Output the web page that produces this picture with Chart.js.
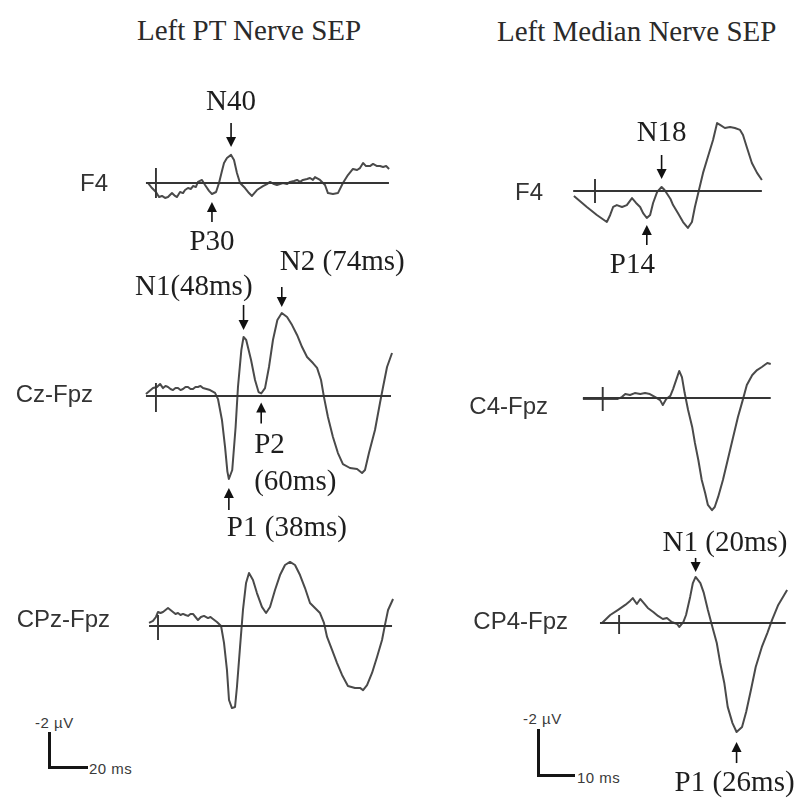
<!DOCTYPE html>
<html>
<head>
<meta charset="utf-8">
<script src="https://cdn.jsdelivr.net/npm/chart.js@4"></script>
<style>
  html, body { margin: 0; padding: 0; background: #fff; }
  #page { position: relative; width: 797px; height: 798px; overflow: hidden; }
  #page canvas { position: absolute; left: 0; top: 0; }
  .title { position: absolute; font-family: "Liberation Serif", "Times New Roman", serif; font-size: 29px; line-height: 29px; color: #2a2a2a; white-space: nowrap; }
  .bar { position: absolute; background: #151515; }
  .bar-text { position: absolute; font-family: "Liberation Sans", Arial, sans-serif; font-size: 15px; line-height: 15px; color: #3a3a3a; white-space: nowrap; letter-spacing: 0.5px; }
</style>
</head>
<body>
<div id="page">
  <div class="title" style="left:137px; top:16px;">Left PT Nerve SEP</div>
  <div class="title" style="left:497px; top:17px;">Left Median Nerve SEP</div>

  <div class="bar-text" style="left:35px; top:715px;">-2 µV</div>
  <div class="bar" style="left:48px; top:732px; width:3px; height:37px;"></div>
  <div class="bar" style="left:48px; top:766px; width:40px; height:3px;"></div>
  <div class="bar-text" style="left:89px; top:761px;">20 ms</div>

  <div class="bar-text" style="left:523px; top:711px;">-2 µV</div>
  <div class="bar" style="left:537px; top:729px; width:3px; height:48px;"></div>
  <div class="bar" style="left:537px; top:774px; width:38px; height:3px;"></div>
  <div class="bar-text" style="left:577px; top:770px;">10 ms</div>
</div>
<script>
// ---- Left PT nerve SEP (time in ms, amplitude in µV, negative plotted up) ----
const ptF4Ms = [-17.0, -14.3, -11.6, -9.5, -7.5, -5.4, -3.4, -1.4, -0.7, 1.4, 2.7, 4.8, 6.8, 8.2, 10.2, 12.2, 13.6, 15.6, 17.0, 19.7,
  21.8, 24.5, 26.5, 29.3, 31.3, 33.3, 34.7, 36.7, 39.5, 41.5, 43.5, 45.6, 49.0, 51.7, 53.7, 57.1, 61.2, 63.9, 66.0, 68.7,
  70.7, 74.8, 77.5, 79.6, 82.3, 84.4, 86.4, 88.4, 91.2, 93.2, 95.2, 96.6, 100.0, 103.4, 105.4, 108.8, 112.2, 115.6, 119.0, 122.4,
  125.2, 127.2, 129.3, 131.3, 134.0, 136.1, 138.8, 140.8, 142.9, 145.0, 147.0];
const ptF4Uv = [0.00, 0.28, 0.50, 0.78, 0.72, 0.83, 0.78, 0.61, 0.56, 0.72, 0.78, 0.50, 0.56, 0.39, 0.28, 0.33, 0.17, 0.22, -0.06, -0.17,
  0.11, 0.44, 0.61, 0.50, 0.00, -0.67, -1.11, -1.39, -1.56, -1.28, -0.56, 0.00, 0.28, 0.56, 0.72, 0.39, 0.17, 0.06, -0.06, 0.06,
  0.11, 0.00, 0.06, -0.06, -0.11, -0.17, -0.06, -0.17, -0.22, -0.28, -0.17, -0.33, -0.17, 0.11, 0.56, 0.61, 0.56, 0.00, -0.44, -0.78,
  -0.72, -0.83, -1.11, -0.94, -0.94, -1.06, -0.94, -0.94, -0.89, -0.94, -0.78];
const ptF4PeakNames = ['N40', 'P30'];
const ptF4PeakMs = [39.5, 26.5];

const ptCzMs = [-18.4, -13.6, -10.9, -8.8, -6.8, -5.1, -3.4, -1.7, 0.0, 1.7, 3.4, 5.1, 6.8, 8.5, 10.2, 11.9, 13.6, 15.3, 17.0, 18.7,
  20.4, 22.8, 25.2, 28.6, 30.6, 33.3, 35.4, 37.0, 38.0, 40.3, 42.6, 44.2, 46.5, 48.0, 49.8, 53.1, 55.8, 58.2, 60.0, 62.6,
  65.3, 68.0, 71.0, 74.0, 77.6, 81.0, 84.4, 87.8, 91.2, 95.2, 98.0, 100.7, 102.7, 105.4, 108.8, 112.2, 115.6, 120.4, 125.2, 128.6,
  130.6, 133.3, 137.4, 140.8, 142.9, 145.6, 149.0];
const ptCzUv = [-0.11, -0.44, -0.50, -0.67, -0.44, -0.56, -0.50, -0.39, -0.33, -0.44, -0.44, -0.33, -0.39, -0.50, -0.50, -0.39, -0.39, -0.50, -0.50, -0.56,
  -0.44, -0.39, -0.33, -0.17, 0.17, 1.33, 2.83, 4.20, 4.61, 4.11, 1.72, -0.50, -2.56, -3.28, -3.11, -2.00, -0.89, -0.22, -0.14, -0.44,
  -1.61, -3.11, -4.22, -4.61, -4.39, -3.94, -3.39, -2.72, -2.17, -1.83, -1.56, -0.89, 0.06, 1.17, 2.28, 3.17, 3.78, 4.00, 4.06, 4.28,
  4.11, 3.17, 1.89, 0.39, -0.50, -1.61, -2.39];
const ptCzPeakNames = ['N1(48ms)', 'N2 (74ms)', 'P2\n(60ms)', 'P1 (38ms)'];
const ptCzPeakMs = [48, 74, 60, 38];

const ptCPzMs = [-16.3, -13.6, -11.6, -10.2, -8.5, -6.8, -5.1, -3.4, -1.7, 0.0, 1.7, 3.4, 5.1, 6.8, 8.5, 10.2, 11.9, 13.6, 15.3, 17.0,
  19.0, 21.1, 23.8, 25.5, 27.2, 29.9, 32.7, 34.7, 36.7, 38.1, 40.1, 42.2, 43.5, 45.6, 47.6, 49.7, 51.7, 54.4, 57.1, 60.5,
  63.3, 66.0, 69.4, 72.8, 76.2, 79.6, 83.0, 86.4, 89.8, 93.2, 96.6, 100.0, 102.7, 104.8, 108.2, 111.6, 115.0, 119.0, 123.8, 127.2,
  129.3, 132.0, 135.4, 138.8, 142.2, 144.2, 146.3, 149.7];
const ptCPzUv = [-0.17, -0.28, -0.50, -0.78, -0.72, -0.78, -0.89, -1.00, -0.89, -0.78, -0.67, -0.72, -0.61, -0.67, -0.61, -0.56, -0.67, -0.67, -0.50, -0.33,
  -0.50, -0.56, -0.44, -0.50, -0.39, -0.22, 0.00, 0.94, 2.44, 4.11, 4.56, 4.50, 3.39, 1.17, -0.89, -2.39, -2.94, -2.56, -1.83, -1.06,
  -0.72, -1.06, -2.00, -2.83, -3.39, -3.56, -3.39, -2.83, -2.11, -1.28, -1.00, -0.72, -0.17, 0.61, 1.33, 2.06, 2.72, 3.33, 3.44, 3.44,
  3.56, 3.28, 2.61, 1.72, 0.78, -0.06, -0.89, -1.50];

// ---- Left median nerve SEP ----
const mnF4Ms = [-5.7, -2.2, 0.5, 3.2, 4.1, 4.9, 5.9, 7.3, 8.6, 10.0, 11.1, 12.2, 13.0, 14.0, 14.9, 15.7, 16.8, 18.0, 18.8, 19.7,
  20.4, 21.1, 22.4, 23.8, 25.1, 26.2, 27.0, 28.1, 29.2, 30.5, 31.9, 33.0, 33.8, 35.1, 36.5, 37.8, 39.2, 40.0, 41.1, 42.4,
  43.8, 45.1];
const mnF4Uv = [0.21, 0.68, 1.02, 1.32, 1.02, 0.68, 0.60, 0.68, 0.60, 0.30, 0.51, 0.68, 0.94, 1.15, 1.02, 0.51, 0.04, -0.17, -0.04, 0.17,
  0.34, 0.60, 0.94, 1.32, 1.57, 1.32, 0.68, -0.04, -0.77, -1.45, -2.17, -2.89, -2.81, -2.68, -2.72, -2.68, -2.60, -2.38, -1.83, -1.19,
  -0.77, -0.47];
const mnF4PeakNames = ['N18', 'P14'];
const mnF4PeakMs = [18, 14];

const mnC4Ms = [3.5, 5.7, 7.5, 8.6, 9.2, 9.7, 10.4, 11.1, 11.9, 12.6, 13.3, 14.1, 14.8, 15.2, 15.7, 16.3, 16.7, 17.3, 17.6, 18.0,
  18.4, 18.9, 19.5, 19.9, 20.4, 20.9, 21.4, 21.8, 22.4, 22.8, 23.3, 24.0, 24.7, 25.5, 26.2, 26.9, 27.5, 28.3, 29.0, 29.7,
  30.5, 31.0];
const mnC4Uv = [0.04, 0.04, 0.04, 0.04, -0.04, -0.17, -0.13, -0.21, -0.17, -0.21, -0.17, -0.04, 0.09, 0.30, 0.04, -0.09, -0.38, -0.89, -1.15, -0.89,
  -0.21, 0.51, 1.23, 1.91, 2.64, 3.49, 4.04, 4.55, 4.77, 4.64, 4.21, 3.49, 2.64, 1.66, 0.81, 0.09, -0.55, -0.98, -1.19, -1.32,
  -1.49, -1.45];

const mnCP4Ms = [6.3, 7.5, 8.6, 9.7, 10.4, 10.8, 11.4, 11.9, 12.3, 13.0, 13.8, 14.5, 15.2, 15.8, 16.5, 17.3, 17.6, 18.2, 18.6, 19.2,
  19.6, 20.0, 20.7, 21.2, 21.8, 22.5, 23.1, 23.6, 24.2, 24.7, 25.4, 26.0, 26.8, 27.4, 28.1, 28.8, 29.7, 30.5, 31.2, 32.1,
  33.4];
const mnCP4Uv = [0.00, -0.34, -0.55, -0.77, -0.94, -1.06, -0.81, -1.02, -0.89, -0.64, -0.47, -0.30, -0.17, -0.21, -0.04, 0.04, 0.17, -0.04, -0.34, -1.11,
  -1.70, -1.96, -1.70, -1.28, -0.55, 0.21, 0.85, 1.70, 2.55, 3.57, 4.26, 4.64, 4.43, 3.79, 2.85, 1.87, 1.02, 0.43, -0.13, -0.77,
  -1.40];
const mnCP4PeakNames = ['N1 (20ms)', 'P1 (26ms)'];
const mnCP4PeakMs = [20, 26];

const W = 797, H = 798;
const SERIF = '"Liberation Serif", "Times New Roman", serif';
const SANS = '"Liberation Sans", Arial, sans-serif';

// panel layout: where t=0 / baseline sit on the page, scale factors, and how each arrow is drawn
const panels = [
  { channel: 'F4', ms: ptF4Ms, uv: ptF4Uv, names: ptF4PeakNames, peaks: ptF4PeakMs,
    sweep: [-18.4, 146.9], stim: -11.6, tick: [-0.83, 0.83],
    zeroPx: 173, pxPerMs: 1.47, basePx: 183, pxPerUv: 18, labelX: 108, labelY: 184,
    marks: [
      { dir: 'down', gap: 8, len: 24, align: 'center', dx: 0, dy: -21 },
      { dir: 'up', gap: 8, len: 20, align: 'center', dx: 0, dy: 20 }
    ] },
  { channel: 'Cz-Fpz', ms: ptCzMs, uv: ptCzUv, names: ptCzPeakNames, peaks: ptCzPeakMs,
    sweep: [-18.4, 148.3], stim: -11.6, tick: [-0.72, 0.89],
    zeroPx: 173, pxPerMs: 1.47, basePx: 396, pxPerUv: 18, labelX: 93, labelY: 395,
    marks: [
      { dir: 'down', gap: 7, len: 25, align: 'right', dx: 9, dy: -18 },
      { dir: 'down', gap: 6, len: 20, align: 'left', dx: -2, dy: -25 },
      { dir: 'up', gap: 9, len: 21, align: 'left', dx: -7, dy: 22, lineGap: 37 },
      { dir: 'up', gap: 9, len: 22, align: 'left', dx: -2, dy: 18 }
    ] },
  { channel: 'CPz-Fpz', ms: ptCPzMs, uv: ptCPzUv, names: [], peaks: [],
    sweep: [-16.3, 149.0], stim: -10.2, tick: [-0.61, 0.78],
    zeroPx: 173, pxPerMs: 1.47, basePx: 626, pxPerUv: 18, labelX: 110, labelY: 620,
    marks: [] },
  { channel: 'F4', ms: mnF4Ms, uv: mnF4Uv, names: mnF4PeakNames, peaks: mnF4PeakMs,
    sweep: [-5.9, 45.1], stim: 0, tick: [-0.51, 0.51],
    zeroPx: 595, pxPerMs: 3.7, basePx: 191, pxPerUv: 23.5, labelX: 543, labelY: 193,
    marks: [
      { dir: 'down', gap: 8, len: 24, align: 'center', dx: 0, dy: -22 },
      { dir: 'up', gap: 7, len: 20, align: 'left', dx: -37, dy: 20 }
    ] },
  { channel: 'C4-Fpz', ms: mnC4Ms, uv: mnC4Uv, names: [], peaks: [],
    sweep: [3.5, 31.0], stim: 6.4, tick: [-0.47, 0.55],
    zeroPx: 559, pxPerMs: 6.83, basePx: 398, pxPerUv: 23.5, labelX: 548, labelY: 407,
    marks: [] },
  { channel: 'CP4-Fpz', ms: mnCP4Ms, uv: mnCP4Uv, names: mnCP4PeakNames, peaks: mnCP4PeakMs,
    sweep: [6.0, 33.2], stim: 8.8, tick: [-0.34, 0.47],
    zeroPx: 559, pxPerMs: 6.83, basePx: 623, pxPerUv: 23.5, labelX: 568, labelY: 622,
    marks: [
      { dir: 'down', gap: 5, len: 14, align: 'left', dx: -33, dy: -15 },
      { dir: 'up', gap: 10, len: 21, align: 'left', dx: -62, dy: 20 }
    ] }
];

// amplitude of a trace at time t (linear between samples)
function valueAt(ms, uv, t) {
  for (let i = 1; i < ms.length; i++) {
    if (t <= ms[i]) {
      const f = (t - ms[i - 1]) / (ms[i] - ms[i - 1]);
      return uv[i - 1] + f * (uv[i] - uv[i - 1]);
    }
  }
  return uv[uv.length - 1];
}

const peakMarks = {
  id: 'peakMarks',
  afterDatasetsDraw(chart, args, opts) {
    const p = opts.panel;
    const ctx = chart.ctx;
    const xs = chart.scales.x, ys = chart.scales.y;
    ctx.save();

    // channel name
    ctx.fillStyle = '#333';
    ctx.font = '24px ' + SANS;
    ctx.textAlign = 'right';
    ctx.textBaseline = 'middle';
    ctx.fillText(p.channel, p.labelX, p.labelY);

    // arrows and component labels
    ctx.font = '29px ' + SERIF;
    ctx.textBaseline = 'middle';
    p.peaks.forEach((t, i) => {
      const m = p.marks[i];
      const x = xs.getPixelForValue(t);
      const yPeak = ys.getPixelForValue(valueAt(p.ms, p.uv, t));
      const s = m.dir === 'down' ? -1 : 1;
      const tip = yPeak + s * m.gap;
      const tail = tip + s * m.len;
      const head = 10;
      ctx.strokeStyle = '#111';
      ctx.fillStyle = '#111';
      ctx.lineWidth = 1.6;
      ctx.beginPath();
      ctx.moveTo(x, tail);
      ctx.lineTo(x, tip + s * head * 0.8);
      ctx.stroke();
      ctx.beginPath();
      ctx.moveTo(x, tip);
      ctx.lineTo(x - 5, tip + s * head);
      ctx.lineTo(x + 5, tip + s * head);
      ctx.closePath();
      ctx.fill();

      ctx.fillStyle = '#1e1e1e';
      ctx.textAlign = m.align;
      p.names[i].split('\n').forEach((line, k) => {
        ctx.fillText(line, x + m.dx, tail + m.dy + k * (m.lineGap || 0));
      });
    });
    ctx.restore();
  }
};

const page = document.getElementById('page');

panels.forEach(p => {
  const canvas = document.createElement('canvas');
  canvas.width = W;
  canvas.height = H;
  page.appendChild(canvas);

  const trace = p.ms.map((t, i) => ({ x: t, y: p.uv[i] }));

  new Chart(canvas, {
    type: 'scatter',
    data: {
      datasets: [
        { data: [{ x: p.sweep[0], y: 0 }, { x: p.sweep[1], y: 0 }],
          showLine: true, borderColor: '#353535', borderWidth: 1.9, pointRadius: 0 },
        { data: [{ x: p.stim, y: p.tick[0] }, { x: p.stim, y: p.tick[1] }],
          showLine: true, borderColor: '#353535', borderWidth: 1.9, pointRadius: 0 },
        { data: trace, showLine: true, borderColor: '#4a4a4a', borderWidth: 2,
          pointRadius: 0, tension: 0, borderJoinStyle: 'round' }
      ]
    },
    options: {
      responsive: false,
      animation: false,
      events: [],
      layout: { padding: 0 },
      plugins: {
        legend: { display: false },
        tooltip: { enabled: false },
        peakMarks: { panel: p }
      },
      scales: {
        x: { type: 'linear', display: false,
             min: -p.zeroPx / p.pxPerMs, max: (W - p.zeroPx) / p.pxPerMs },
        y: { type: 'linear', display: false, reverse: true,
             min: -p.basePx / p.pxPerUv, max: (H - p.basePx) / p.pxPerUv }
      }
    },
    plugins: [peakMarks]
  });
});
</script>
</body>
</html>
